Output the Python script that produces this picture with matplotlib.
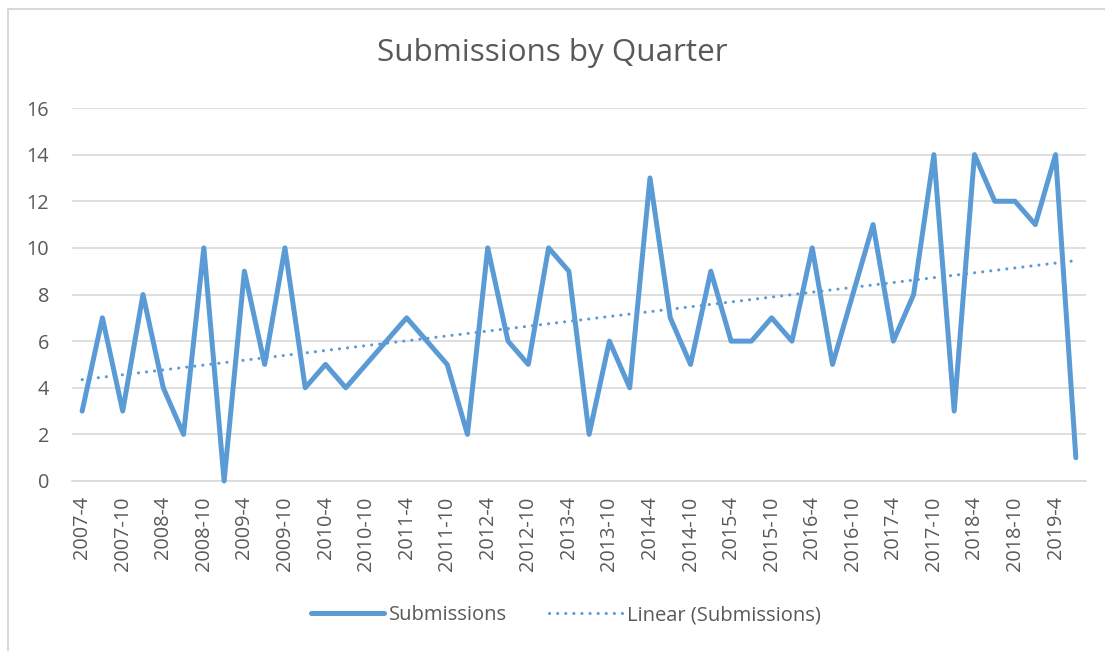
import numpy as np
import matplotlib
matplotlib.use('Agg')
import matplotlib.pyplot as plt
from matplotlib.patches import Rectangle

# quarterly labels 2007-4 .. 2019-7
quarters = [f"{y}-{m}" for y in range(2007, 2020) for m in (1, 4, 7, 10)][1:51]
submissions = [3, 7, 3, 8, 4, 2, 10, 0, 9, 5,
               10, 4, 5, 4, 5, 6, 7, 6, 5, 2,
               10, 6, 5, 10, 9, 2, 6, 4, 13, 7,
               5, 9, 6, 6, 7, 6, 10, 5, 8, 11,
               6, 8, 14, 3, 14, 12, 12, 11, 14, 1]
yticks = [0, 2, 4, 6, 8, 10, 12, 14, 16]

BLUE = '#5B9BD5'
GREY = '#595959'
GRID = '#D9D9D9'

plt.rcParams['font.family'] = ['Open Sans', 'DejaVu Sans']

x = np.arange(len(submissions))
coef = np.polyfit(x, submissions, 1)
trend = np.polyval(coef, x)

fig = plt.figure(figsize=(11.05, 6.51), dpi=100)
ax = fig.add_axes([72/1105, 1-481/651, (1086-72)/1105, (481-108)/651])

ax.plot(x, submissions, color=BLUE, lw=3.6, solid_joinstyle='round', solid_capstyle='round',
        label='Submissions', zorder=3, clip_on=False)
ax.plot(x, trend, color=BLUE, lw=2.2, linestyle=(0, (0.05, 2.6)), dash_capstyle='round',
        label='Linear (Submissions)', zorder=2)

ax.set_xlim(-0.5, len(submissions) - 0.5)
ax.set_ylim(0, 16)
ax.set_yticks(yticks)
ax.set_xticks(x[::2])
ax.set_xticklabels(quarters[::2], rotation=90)
ax.tick_params(axis='both', length=0, labelsize=14.3, labelcolor=GREY)
ax.tick_params(axis='x', pad=11)
ax.tick_params(axis='y', pad=16.5)
ax.grid(axis='y', color=GRID, lw=1.2)
ax.set_axisbelow(True)
for s in ['top', 'right', 'left']:
    ax.spines[s].set_visible(False)
ax.spines['bottom'].set_color(GRID)
ax.spines['bottom'].set_linewidth(1.2)

fig.text(0.5, 1-53/651, 'Submissions by Quarter', ha='center', va='center',
         fontsize=22.6, color=GREY)

leg = fig.legend(loc='center', bbox_to_anchor=(566/1105, 1-615/651), ncol=2,
                 frameon=False, fontsize=14.5, handlelength=3.6, columnspacing=2.1,
                 handletextpad=0.25)
for t in leg.get_texts():
    t.set_color(GREY)

# chart area border
fig.patches.append(Rectangle((8/1105, -0.1), 1.2, 1-8.5/651+0.1, transform=fig.transFigure,
                             fill=False, edgecolor=GRID, lw=1.5))

fig.savefig('out.png', dpi=100)
